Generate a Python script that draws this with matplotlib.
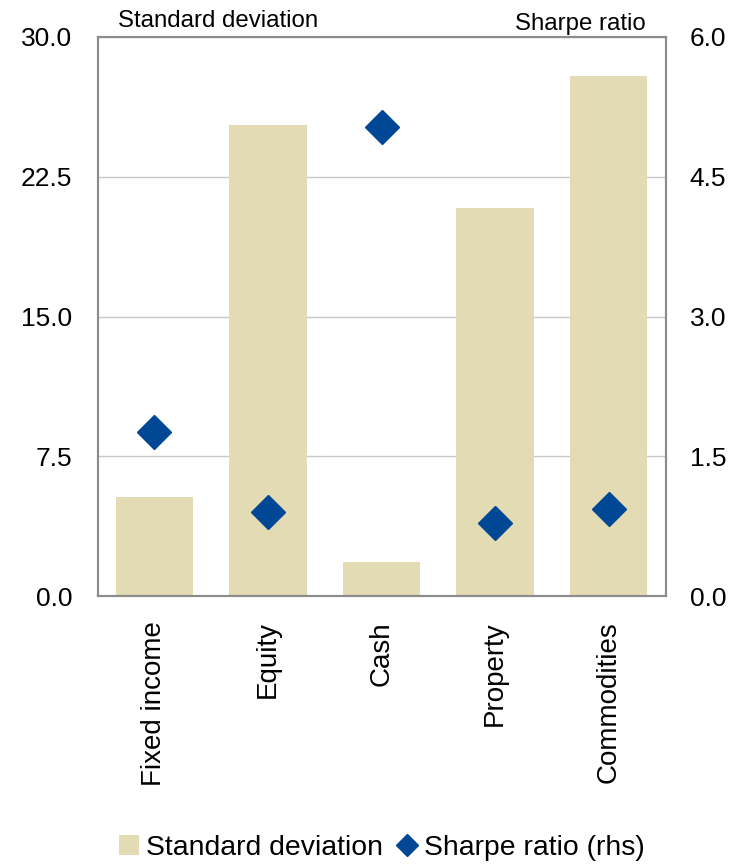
import matplotlib
matplotlib.use("Agg")
import matplotlib.pyplot as plt
from matplotlib.lines import Line2D
from matplotlib.patches import Patch

plt.rcParams['font.family'] = ['Liberation Sans', 'DejaVu Sans']

categories = ["Fixed income", "Equity", "Cash", "Property", "Commodities"]
std_dev = [5.3, 25.3, 1.8, 20.8, 27.9]
sharpe = [1.76, 0.9, 5.03, 0.78, 0.93]
left_ticks = [0.0, 7.5, 15.0, 22.5, 30.0]
right_ticks = [0.0, 1.5, 3.0, 4.5, 6.0]

bar_color = "#E3DBB3"
dia_color = "#004795"
spine_color = "#8C8C8C"

fig = plt.figure(figsize=(7.51, 8.64), dpi=100)
ax = fig.add_axes([97.5/751, 1 - 596/864, (665.5-97.5)/751, (596-37)/864])
ax2 = ax.twinx()

x = list(range(len(categories)))
ax.bar(x, std_dev, width=0.68, color=bar_color, zorder=2)
ax.set_xlim(-0.5, 4.5)
ax.set_ylim(0, 30)
ax.set_yticks(left_ticks)
ax.set_yticklabels([f"{v:.1f}" for v in left_ticks])
ax.grid(axis='y', color="#C8C8C8", linewidth=1.0, zorder=0)
ax.set_axisbelow(True)
ax.set_xticks(x)
ax.set_xticklabels(categories, rotation=90, va='top', ha='center')
ax.tick_params(axis='both', length=0)
ax.tick_params(axis='y', pad=18, labelsize=19)
ax.tick_params(axis='x', pad=18, labelsize=20)

ax2.plot(x, sharpe, linestyle='none', marker='D', markersize=17.5,
         color=dia_color, zorder=3)
ax2.set_ylim(0, 6)
ax2.set_yticks(right_ticks)
ax2.set_yticklabels([f"{v:.1f}" for v in right_ticks])
ax2.tick_params(axis='y', length=0, labelsize=19, pad=17.5)

for a in (ax, ax2):
    for s in a.spines.values():
        s.set_color(spine_color)
        s.set_linewidth(1.5)

fig.text(118/751, 1 - 27/864, "Standard deviation", fontsize=17.3,
         ha='left', va='baseline')
fig.text(646/751, 1 - 30/864, "Sharpe ratio", fontsize=17.3,
         ha='right', va='baseline')

handles = [Patch(facecolor=bar_color, edgecolor='none', label="Standard deviation"),
           Line2D([], [], linestyle='none', marker='D', markersize=10.7,
                  color=dia_color, label="Sharpe ratio (rhs)")]
fig.legend(handles=handles, loc='center', bbox_to_anchor=(382/751, 1 - 848/864),
           ncol=2, frameon=False, fontsize=20.4, handlelength=0.7,
           handletextpad=0.25, columnspacing=0.5, handleheight=0.7,
           borderpad=0.1)

fig.savefig("out.png", dpi=100)
